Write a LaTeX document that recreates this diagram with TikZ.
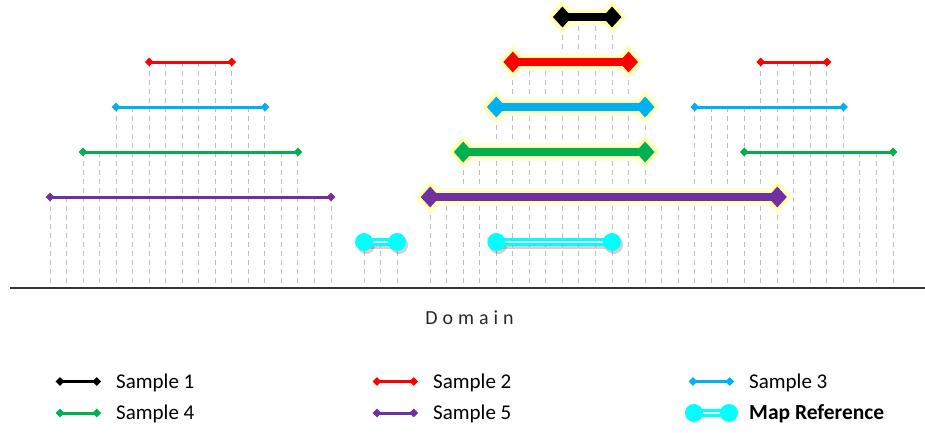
\documentclass[tikz,border=0pt]{standalone}
\usepackage{fontspec}
\setmainfont{Carlito}
\usetikzlibrary{shapes.geometric}

\definecolor{samplered}{HTML}{FF0000}
\definecolor{sampleblue}{HTML}{00B0F0}
\definecolor{samplegreen}{HTML}{00B050}
\definecolor{samplepurple}{HTML}{7030A0}
\definecolor{mapcyan}{HTML}{00FFFF}
\definecolor{gridgray}{HTML}{BFBFBF}
\definecolor{glowyellow}{HTML}{FFFF99}

\tikzset{
  gridline/.style={gridgray, line width=1pt, dash pattern=on 5pt off 4pt},
  axisline/.style={black!80, line width=1.3pt},
  thinbar/.style={line width=3pt},
  thickbar/.style={line width=7.5pt},
  smalltip/.style={diamond, inner sep=0pt, minimum width=10pt, minimum height=10pt},
  bigtip/.style={diamond, inner sep=0pt, minimum width=22pt, minimum height=24pt},
  mapend/.style={circle, fill=mapcyan, inner sep=0pt, minimum size=18pt},
  legendtext/.style={anchor=base west, inner sep=0pt, font=\fontsize{21}{24}\selectfont}
}

% thin sample bar: colour, first column, last column, level
\newcommand{\samplebar}[4]{%
  \draw[thinbar, #1] (#2,#4) -- (#3,#4)
    node[pos=0, smalltip, fill=#1] {} node[pos=1, smalltip, fill=#1] {};}

% thick sample bar with a yellow glow behind it
\newcommand{\hotbar}[4]{%
  \draw[glowyellow!30, line width=18pt] (#2,#4) -- (#3,#4)
    node[pos=0, bigtip, fill=glowyellow!30, draw=glowyellow!30, line width=11pt] {}
    node[pos=1, bigtip, fill=glowyellow!30, draw=glowyellow!30, line width=11pt] {};
  \draw[glowyellow!75, line width=12pt] (#2,#4) -- (#3,#4)
    node[pos=0, bigtip, fill=glowyellow!75, draw=glowyellow!75, line width=5pt] {}
    node[pos=1, bigtip, fill=glowyellow!75, draw=glowyellow!75, line width=5pt] {};
  \draw[thickbar, #1] (#2,#4) -- (#3,#4)
    node[pos=0, bigtip, fill=#1] {} node[pos=1, bigtip, fill=#1] {};}

% map reference: double cyan line with round ends, [shadow opacity]
\newcommand{\mapbar}[3][.18]{%
  \begin{scope}[shift={(2pt,-3pt)}, black, opacity=#1]
    \draw[line width=8pt] (#2) -- (#3);
    \fill (#2) circle (9pt) (#3) circle (9pt);
  \end{scope}
  \draw[mapcyan, line width=8pt] (#2) -- (#3);
  \draw[white!85!gray, line width=2.5pt] (#2) -- (#3);
  \node[mapend] at (#2) {};
  \node[mapend] at (#3) {};}

\begin{document}
\begin{tikzpicture}[x=1pt, y=-1pt]
  \useasboundingbox (0,0) rectangle (925,432);

  \begin{scope}[shift={(50pt,-17pt)}, x=16.53pt, y=-45pt]
    % dashed guides, each from the highest bar over its column
    \foreach \i/\k in {0/4,1/4,2/3,3/3,4/2,5/2,6/1,7/1,8/1,9/1,10/1,11/1,12/2,13/2,14/3,15/3,16/4,17/4,
                       19/5,20/5,21/5,
                       23/4,24/4,25/3,26/3,27/2,28/1,29/1,30/1,31/0,32/0,33/0,34/0,35/1,36/2,37/4,38/4,
                       39/2,40/2,41/2,42/2,43/1,44/1,45/1,46/1,47/1,48/2,49/3,50/3,51/3}
      \draw[gridline] (\i,\k) -- (\i,6.022);

    % left group
    \samplebar{samplered}{6}{11}{1}
    \samplebar{sampleblue}{4}{13}{2}
    \samplebar{samplegreen}{2}{15}{3}
    \samplebar{samplepurple}{0}{17}{4}

    % middle group
    \hotbar{black}{31}{34}{0}
    \hotbar{samplered}{28}{35}{1}
    \hotbar{sampleblue}{27}{36}{2}
    \hotbar{samplegreen}{25}{36}{3}
    \hotbar{samplepurple}{23}{44}{4}
    \mapbar{19,5}{21,5}
    \mapbar{27,5}{34,5}

    % right group
    \samplebar{samplered}{43}{47}{1}
    \samplebar{sampleblue}{39}{48}{2}
    \samplebar{samplegreen}{42}{51}{3}
  \end{scope}

  \draw[axisline] (10,288) -- (925,288);
  \node[anchor=base, inner sep=0pt, text=black!85, font=\fontsize{20}{24}\selectfont] (domain) at (469.5,324)
    {D\kern5pt o\kern5pt m\kern5pt a\kern5pt i\kern5pt n};

  % legend
  \foreach \n/\c/\px/\py in {1/black/60/381.5, 2/samplered/377/381.5, 3/sampleblue/693/381.5,
                             4/samplegreen/60/413, 5/samplepurple/377/413} {
    \draw[thinbar, \c] (\px,\py) -- +(36.7,0)
      node[pos=0, smalltip, fill=\c] {} node[pos=1, smalltip, fill=\c] {};
    \node[legendtext] (key\n) at (\px+56,\py+6.5) {Sample \n};
  }
  \mapbar[0]{694,413}{729,413}
  \node[legendtext, font=\fontsize{21.5}{24}\selectfont\bfseries] (keymap) at (749,419.5) {Map Reference};
\end{tikzpicture}
\end{document}
